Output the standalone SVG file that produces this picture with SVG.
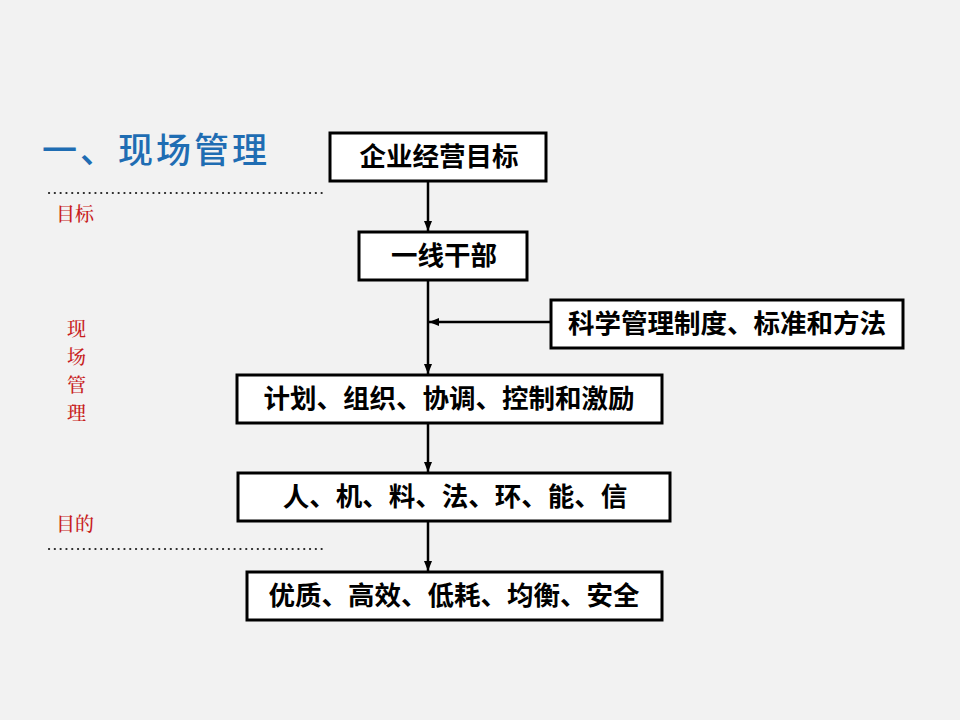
<svg xmlns="http://www.w3.org/2000/svg" width="960" height="720" viewBox="0 0 960 720">
<defs>
<style>
.box{fill:#fff;stroke:#000;stroke-width:3}
.t{font-family:"Noto Sans CJK SC","Noto Sans CJK TC",sans-serif;font-weight:bold;font-size:26.5px;fill:#000;text-anchor:middle}
.r{font-family:"Noto Serif CJK SC","Noto Sans CJK SC",serif;font-size:19px;font-weight:500;fill:#c81e1e}
.c{stroke:#000;stroke-width:2.5;fill:none}
.dot{stroke:#222;stroke-width:2.2;stroke-linecap:round;stroke-dasharray:0.1 5.7}
</style>
<marker id="ah" markerWidth="10" markerHeight="10" viewBox="0 0 10 10" refX="10" refY="5" orient="auto" markerUnits="userSpaceOnUse">
<path d="M0,1 L10,5 L0,9 Z" fill="#000"/>
</marker>
</defs>
<rect width="960" height="720" fill="#f2f2f2"/>
<g id="title">
<text x="42" y="163" font-family="Noto Sans CJK SC,sans-serif" font-size="35" font-weight="500" letter-spacing="3" fill="#1f6db3">一、现场管理</text>
</g>
<g id="side">
<line class="dot" x1="49" y1="193" x2="322" y2="193"/>
<line class="dot" x1="49" y1="549" x2="322" y2="549"/>
<text class="r" x="56" y="221">目标</text>
<text class="r" x="67" y="336">现</text>
<text class="r" x="67" y="364">场</text>
<text class="r" x="67" y="392">管</text>
<text class="r" x="67" y="420">理</text>
<text class="r" x="56" y="531">目的</text>
</g>
<g id="connectors">
<line class="c" x1="428" y1="181" x2="428" y2="231" marker-end="url(#ah)"/>
<line class="c" x1="428" y1="280" x2="428" y2="374" marker-end="url(#ah)"/>
<line class="c" x1="551" y1="322" x2="429" y2="322" marker-end="url(#ah)"/>
<line class="c" x1="428" y1="423" x2="428" y2="472" marker-end="url(#ah)"/>
<line class="c" x1="428" y1="521" x2="428" y2="571" marker-end="url(#ah)"/>
</g>
<g id="n1">
<rect class="box" x="330" y="133" width="216" height="48"/>
<text class="t" x="439" y="166">企业经营目标</text>
</g>
<g id="n2">
<rect class="box" x="359" y="232" width="168" height="48"/>
<text class="t" x="444" y="265">一线干部</text>
</g>
<g id="n3">
<rect class="box" x="551" y="300" width="352" height="48"/>
<text class="t" x="727" y="333">科学管理制度、标准和方法</text>
</g>
<g id="n4">
<rect class="box" x="237" y="375" width="425" height="48"/>
<text class="t" x="449" y="408">计划、组织、协调、控制和激励</text>
</g>
<g id="n5">
<rect class="box" x="238" y="473" width="432" height="48"/>
<text class="t" x="455" y="506">人、机、料、法、环、能、信</text>
</g>
<g id="n6">
<rect class="box" x="247" y="572" width="415" height="48"/>
<text class="t" x="454" y="605">优质、高效、低耗、均衡、安全</text>
</g>
</svg>
